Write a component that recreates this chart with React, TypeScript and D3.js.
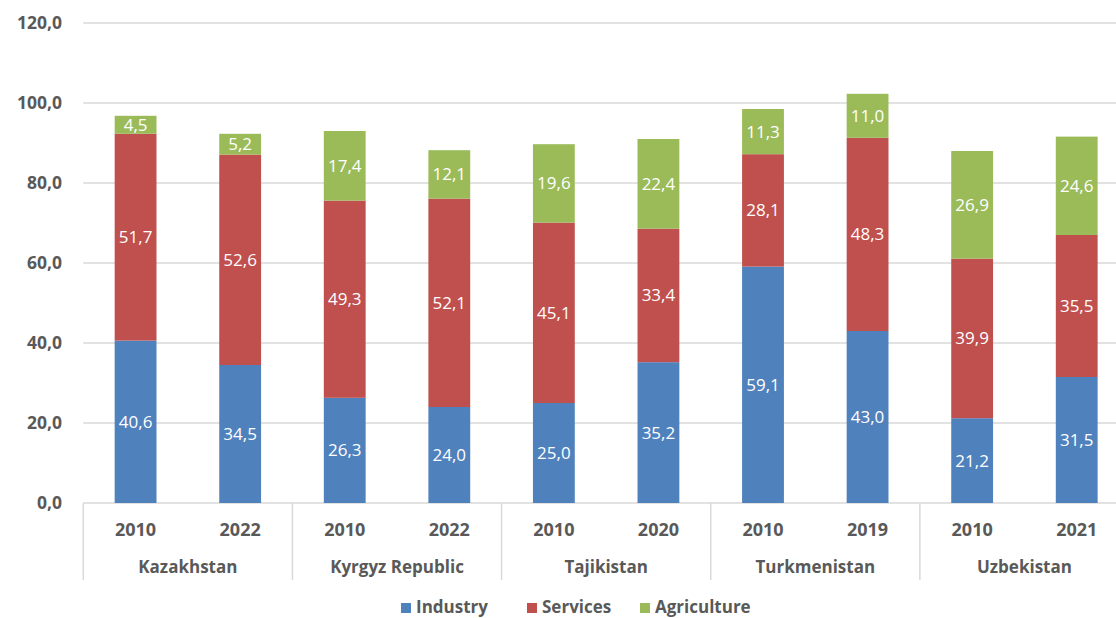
import React from "react";
import * as d3 from "d3";

const countries = ["Kazakhstan", "Kyrgyz Republic", "Tajikistan", "Turkmenistan", "Uzbekistan"];
const years = [["2010", "2022"], ["2010", "2022"], ["2010", "2020"], ["2010", "2019"], ["2010", "2021"]];
const industry = [40.6, 34.5, 26.3, 24.0, 25.0, 35.2, 59.1, 43.0, 21.2, 31.5];
const services = [51.7, 52.6, 49.3, 52.1, 45.1, 33.4, 28.1, 48.3, 39.9, 35.5];
const agriculture = [4.5, 5.2, 17.4, 12.1, 19.6, 22.4, 11.3, 11.0, 26.9, 24.6];
const seriesNames = ["Industry", "Services", "Agriculture"];
const seriesColors = ["#4F81BD", "#C0504D", "#9BBB59"];
const yTicks = [0, 20, 40, 60, 80, 100, 120];

const W = 1116;
const H = 618;
const left = 83.3;
const right = 1129;
const top = 23;
const bottom = 503;
const FONT = "'Open Sans', 'Liberation Sans', sans-serif";
const GREY = "#595959";

export default function App() {
  const keys: string[] = [];
  const catCountry: number[] = [];
  countries.forEach((c, i) => years[i].forEach((yr) => { keys.push(c + "|" + yr); catCountry.push(i); }));

  const x = d3.scaleBand<string>().domain(keys).range([left, right]).paddingInner(0.6).paddingOuter(0.3);
  const y = d3.scaleLinear().domain([0, 120]).range([bottom, top]);
  const step = x.step();

  const rows = keys.map((k, i) => ({ key: k, Industry: industry[i], Services: services[i], Agriculture: agriculture[i] }));
  const stack = d3.stack<any>().keys(seriesNames)(rows);
  const fmt = (v: number) => v.toFixed(1).replace(".", ",");

  return (
    <svg width={W} height={H} style={{ position: "absolute", left: 0, top: 0, background: "#fff" }}>
      {yTicks.map((t) => (
        <g key={t}>
          <line x1={left} x2={W} y1={y(t)} y2={y(t)} stroke="#d9d9d9" strokeWidth={1.5} />
          <text x={62} y={y(t) + 6} textAnchor="end" fontFamily={FONT} fontWeight={700} fontSize={17.5} fill={GREY}>
            {fmt(t)}
          </text>
        </g>
      ))}
      {stack.map((s, si) => (
        <g key={s.key}>
          {s.map((d: any, i: number) => (
            <g key={i}>
              <rect x={x(keys[i])} width={x.bandwidth()} y={y(d[1])} height={y(d[0]) - y(d[1])} fill={seriesColors[si]} />
              <text
                x={(x(keys[i]) as number) + x.bandwidth() / 2}
                y={(y(d[0]) + y(d[1])) / 2 + 6}
                textAnchor="middle"
                fontFamily={FONT}
                fontSize={17}
                fill="#fff"
              >
                {fmt(d[1] - d[0])}
              </text>
            </g>
          ))}
        </g>
      ))}
      {countries.map((c, ci) => {
        const idx = catCountry.indexOf(ci);
        const x0 = (x(keys[idx]) as number) - (step - x.bandwidth()) / 2;
        const x1 = x0 + step * years[ci].length;
        return (
          <g key={c}>
            <line x1={x0} x2={x0} y1={bottom} y2={580} stroke="#d9d9d9" strokeWidth={1.5} />
            <text x={(x0 + x1) / 2} y={573} textAnchor="middle" fontFamily={FONT} fontWeight={700} fontSize={17} fill={GREY}>
              {c}
            </text>
          </g>
        );
      })}
      {keys.map((k, i) => (
        <text
          key={k}
          x={(x(k) as number) + x.bandwidth() / 2}
          y={536}
          textAnchor="middle"
          fontFamily={FONT}
          fontWeight={700}
          fontSize={18}
          fill={GREY}
        >
          {k.split("|")[1]}
        </text>
      ))}
      {seriesNames.map((n, i) => {
        const lx = [401, 527, 640][i];
        return (
          <g key={n}>
            <rect x={lx} y={603} width={10} height={10} fill={seriesColors[i]} />
            <text x={lx + 15} y={613} fontFamily={FONT} fontWeight={700} fontSize={17} fill={GREY}>
              {n}
            </text>
          </g>
        );
      })}
    </svg>
  );
}
